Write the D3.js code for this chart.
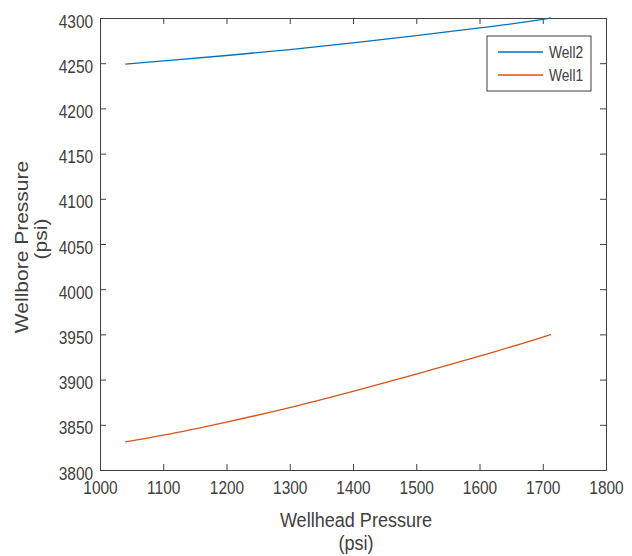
<!DOCTYPE html>
<html>
<head>
<meta charset="utf-8">
<script src="https://cdn.jsdelivr.net/npm/d3@7"></script>
<style>
  body { margin: 0; background: #fff; }
  text { font-family: "Liberation Sans", Arial, sans-serif; fill: #404040; }
</style>
</head>
<body>
<div id="chart-area"></div>
<script>
// DATA ------------------------------------------------------------------
const wellheadP = [1040, 1100, 1200, 1300, 1400, 1500, 1600, 1700, 1713]
const well2 = [4249, 4252.5, 4258.5, 4265, 4272.5, 4280.5, 4289, 4298.5, 4300]
const well1 = [3831, 3838.5, 3853, 3869, 3887, 3906, 3926, 3947, 3950]
const seriesNames = ["Well2", "Well1"]
const xTicks = [1000, 1100, 1200, 1300, 1400, 1500, 1600, 1700, 1800]
const yTicks = [3800, 3850, 3900, 3950, 4000, 4050, 4100, 4150, 4200, 4250, 4300]

// MARGIN CONVENTION -----------------------------------------------------
const MARGIN = { LEFT: 100, RIGHT: 26, TOP: 18, BOTTOM: 86 }
const WIDTH = 632 - MARGIN.LEFT - MARGIN.RIGHT
const HEIGHT = 556 - MARGIN.TOP - MARGIN.BOTTOM
const AXIS_COLOR = "#404040"
const SQUEEZE = 0.86   // the text in the picture is narrower than it is tall

const svg = d3.select("#chart-area").append("svg")
  .attr("width", 632)
  .attr("height", 556)
const g = svg.append("g")
  .attr("transform", `translate(${MARGIN.LEFT}, ${MARGIN.TOP})`)

// SCALES ----------------------------------------------------------------
const xScale = d3.scaleLinear().domain([1000, 1800]).range([0, WIDTH])
const yScale = d3.scaleLinear().domain([3800, 4300]).range([HEIGHT, 0])
const colors = d3.scaleOrdinal().domain(seriesNames).range(["#0072BD", "#D95319"])

// AXES (MATLAB style box, ticks inward) ---------------------------------
const TICK = 6
const fmt = d3.format("d")
const xAxis = d3.axisBottom(xScale).tickValues(xTicks).tickFormat(fmt).tickSizeInner(-TICK).tickSizeOuter(0).tickPadding(20)
const yAxis = d3.axisLeft(yScale).tickValues(yTicks).tickFormat(fmt).tickSizeInner(-TICK).tickSizeOuter(0).tickPadding(8)
const xAxisTop = d3.axisTop(xScale).tickValues(xTicks).tickSizeInner(-TICK).tickSizeOuter(0).tickFormat("")
const yAxisRight = d3.axisRight(yScale).tickValues(yTicks).tickSizeInner(-TICK).tickSizeOuter(0).tickFormat("")

const gx = g.append("g").attr("transform", `translate(0, ${HEIGHT})`).call(xAxis)
const gy = g.append("g").call(yAxis)
const gxt = g.append("g").call(xAxisTop)
const gyr = g.append("g").attr("transform", `translate(${WIDTH}, 0)`).call(yAxisRight)

;[gx, gy, gxt, gyr].forEach(a => {
  a.select(".domain").attr("stroke", AXIS_COLOR).attr("stroke-width", 1)
  a.selectAll(".tick line").attr("stroke", AXIS_COLOR)
  a.selectAll(".tick text")
    .attr("font-family", "'Liberation Sans', Arial, sans-serif")
    .attr("font-size", 18)
    .attr("fill", AXIS_COLOR)
    .attr("transform", `scale(${SQUEEZE},1)`)
})
gx.selectAll(".tick text").attr("dy", "0.25em")
gy.selectAll(".tick text").attr("dy", "0.5em")

// LINES -----------------------------------------------------------------
const line = d3.line()
  .x(d => xScale(d[0]))
  .y(d => yScale(d[1]))
  .curve(d3.curveMonotoneX)

const series = [
  { name: "Well2", values: d3.zip(wellheadP, well2) },
  { name: "Well1", values: d3.zip(wellheadP, well1) }
]

g.selectAll("path.series").data(series).enter().append("path")
  .attr("class", "series")
  .attr("fill", "none")
  .attr("stroke", d => colors(d.name))
  .attr("stroke-width", 1.3)
  .attr("d", d => line(d.values))

// AXIS LABELS -----------------------------------------------------------
function label(x, y, txt, rotate) {
  svg.append("text")
    .attr("text-anchor", "middle")
    .attr("font-size", 21)
    .attr("fill", AXIS_COLOR)
    .attr("transform", `translate(${x}, ${y}) scale(${SQUEEZE},1)` + (rotate ? " rotate(-90)" : ""))
    .text(txt)
}
const xMid = MARGIN.LEFT + WIDTH / 2
label(xMid + 3, 527, "Wellhead Pressure", false)
label(xMid + 3, 550, "(psi)", false)
label(28, 247, "Wellbore Pressure", true)
label(47, 239, "(psi)", true)

// LEGEND ----------------------------------------------------------------
const legend = g.append("g").attr("transform", `translate(${487 - MARGIN.LEFT}, ${36 - MARGIN.TOP})`)
legend.append("rect")
  .attr("width", 104).attr("height", 55)
  .attr("fill", "#fff")
  .attr("stroke", AXIS_COLOR)
  .attr("stroke-width", 1)
const items = legend.selectAll("g.item").data(seriesNames).enter().append("g")
  .attr("class", "item")
  .attr("transform", (d, i) => `translate(0, ${16 + i * 23})`)
items.append("line")
  .attr("x1", 11).attr("x2", 56)
  .attr("stroke", d => colors(d))
  .attr("stroke-width", 1.3)
items.append("text")
  .attr("transform", `translate(62, 0) scale(${SQUEEZE},1)`)
  .attr("dy", "0.36em")
  .attr("font-size", 16)
  .attr("fill", "#262626")
  .text(d => d)
</script>
</body>
</html>
